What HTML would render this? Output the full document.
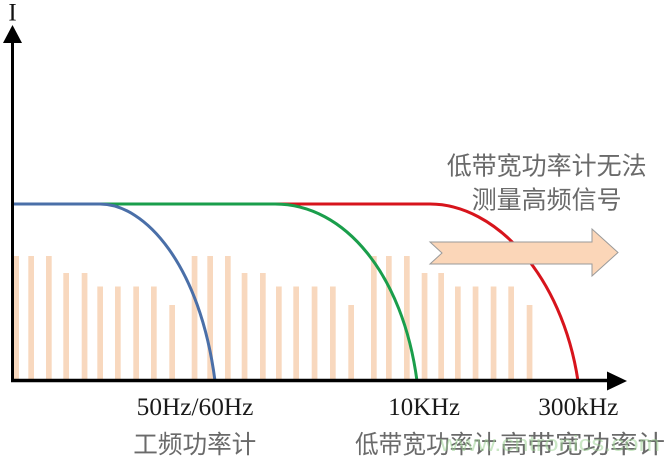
<!DOCTYPE html>
<html>
<head>
<meta charset="utf-8">
<style>
  html, body { margin: 0; padding: 0; background: #ffffff; }
  body { width: 667px; height: 464px; overflow: hidden; }
  svg { display: block; }
</style>
</head>
<body>
<svg width="667" height="464" viewBox="0 0 667 464" xmlns="http://www.w3.org/2000/svg">
  <rect x="0" y="0" width="667" height="464" fill="#ffffff"/>

  <!-- Bars -->
  <g fill="#f8d8be">
    <!-- group 1 -->
    <rect x="13.3" y="256" width="5.7" height="123"/>
    <rect x="28.3" y="256" width="5.7" height="123"/>
    <rect x="46" y="256" width="5.7" height="123"/>
    <rect x="63.3" y="273" width="5.7" height="106"/>
    <rect x="81.7" y="273" width="5.7" height="106"/>
    <rect x="97.3" y="286.5" width="5.7" height="92.5"/>
    <rect x="115" y="286.5" width="5.7" height="92.5"/>
    <rect x="133.3" y="286.5" width="5.7" height="92.5"/>
    <rect x="151" y="286.5" width="5.7" height="92.5"/>
    <rect x="169.3" y="305" width="5.7" height="74"/>
    <!-- group 2 -->
    <rect x="191.7" y="256" width="5.7" height="123"/>
    <rect x="207.3" y="256" width="5.7" height="123"/>
    <rect x="225" y="256" width="5.7" height="123"/>
    <rect x="241.7" y="273" width="5.7" height="106"/>
    <rect x="260" y="273" width="5.7" height="106"/>
    <rect x="276" y="286.5" width="5.7" height="92.5"/>
    <rect x="293.3" y="286.5" width="5.7" height="92.5"/>
    <rect x="311.7" y="286.5" width="5.7" height="92.5"/>
    <rect x="330" y="286.5" width="5.7" height="92.5"/>
    <rect x="348.3" y="305" width="5.7" height="74"/>
    <!-- group 3 -->
    <rect x="371" y="256" width="5.7" height="123"/>
    <rect x="386" y="256" width="5.7" height="123"/>
    <rect x="404" y="256" width="5.7" height="123"/>
    <rect x="421.7" y="273" width="5.7" height="106"/>
    <rect x="438.3" y="273" width="5.7" height="106"/>
    <rect x="455" y="286.5" width="5.7" height="92.5"/>
    <rect x="472.7" y="286.5" width="5.7" height="92.5"/>
    <rect x="490.7" y="286.5" width="5.7" height="92.5"/>
    <rect x="508.3" y="286.5" width="5.7" height="92.5"/>
    <rect x="526.7" y="305" width="5.7" height="74"/>
  </g>

  <!-- Curves -->
  <path d="M 12 204 H 430 C 495 204, 562 275, 578 381" fill="none" stroke="#d7141c" stroke-width="3"/>
  <path d="M 12 204 H 275 C 345 204, 403 275, 417 381" fill="none" stroke="#1a9e4b" stroke-width="3"/>
  <path d="M 12 204 H 100 C 145 204, 200 265, 215 381" fill="none" stroke="#4a6fa8" stroke-width="3"/>

  <!-- Big arrow -->
  <polygon points="430,242 592,242 592,229 618,252.5 592,276 592,264 430,264 442,253"
           fill="#fbd6b8" stroke="#9a9a9a" stroke-width="1"/>

  <!-- Axes -->
  <line x1="12.5" y1="40" x2="12.5" y2="382" stroke="#000" stroke-width="3"/>
  <polygon points="12.5,25 22,43 3,43" fill="#000"/>
  <line x1="11" y1="380.5" x2="610" y2="380.5" stroke="#000" stroke-width="3.5"/>
  <polygon points="627,381 607,371.5 607,390.5" fill="#000"/>

  <!-- Axis label I -->
  <text x="12.5" y="20.7" text-anchor="middle" font-family="'Liberation Serif', serif" font-size="25" fill="#111">I</text>

  <!-- Top annotation -->
  <g font-family="'Liberation Sans', 'Noto Sans CJK SC', sans-serif" font-size="25" fill="#6a6a6a">
    <text x="446.7" y="174.5" textLength="200" lengthAdjust="spacingAndGlyphs">低带宽功率计无法</text>
    <text x="471.7" y="208.5" textLength="150" lengthAdjust="spacingAndGlyphs">测量高频信号</text>
  </g>

  <!-- Frequency labels -->
  <g font-family="'Liberation Serif', serif" font-size="25" fill="#1a1a1a">
    <text x="136.7" y="415" textLength="116.7" lengthAdjust="spacingAndGlyphs">50Hz/60Hz</text>
    <text x="388.3" y="415" textLength="71.7" lengthAdjust="spacingAndGlyphs">10KHz</text>
    <text x="538.3" y="415" textLength="80" lengthAdjust="spacingAndGlyphs">300kHz</text>
  </g>

  <!-- Meter labels -->
  <g font-family="'Liberation Sans', 'Noto Sans CJK SC', sans-serif" font-size="25" fill="#6a6a6a">
    <text x="133.3" y="453" textLength="123" lengthAdjust="spacingAndGlyphs">工频功率计</text>
    <text x="355" y="453" textLength="142" lengthAdjust="spacingAndGlyphs">低带宽功率计</text>
    <text x="500" y="453" textLength="165" lengthAdjust="spacingAndGlyphs">高带宽功率计</text>
  </g>

  <!-- Watermark -->
  <text x="440" y="451" font-family="'Liberation Sans', sans-serif" font-size="22" fill="#9fd395" fill-opacity="0.55" textLength="220" lengthAdjust="spacingAndGlyphs">www.cntronics.com</text>
</svg>
</body>
</html>
